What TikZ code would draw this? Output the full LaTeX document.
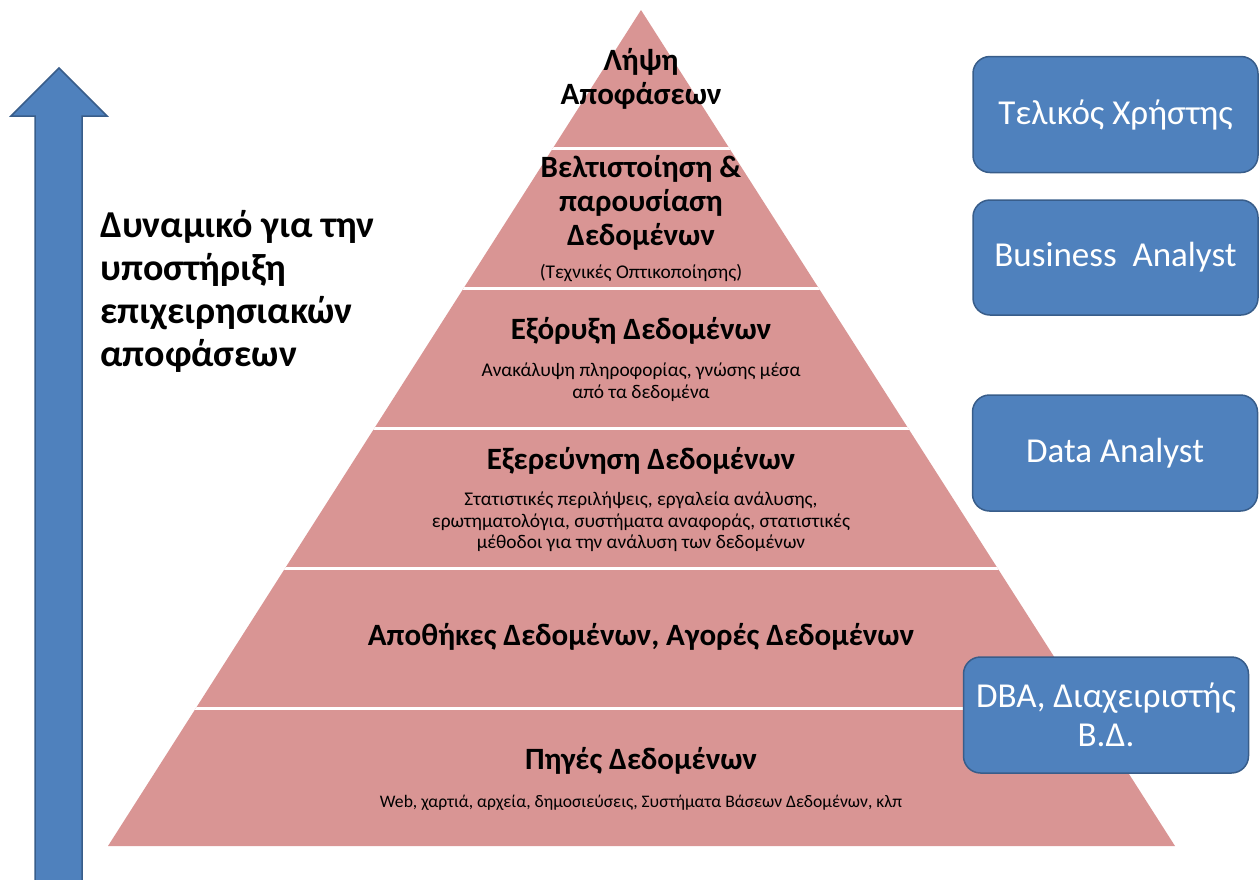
\documentclass[tikz,border=0pt]{standalone}
\usepackage{fontspec}
\setmainfont{Carlito}
\definecolor{pyr}{HTML}{D99594}
\definecolor{bfill}{HTML}{4F81BD}
\definecolor{bdraw}{HTML}{385D8A}
\tikzset{
  big/.style={font=\bfseries\fontsize{31}{34}\selectfont, align=center, inner sep=0pt},
  small/.style={font=\fontsize{19.4}{21.5}\selectfont, align=center, inner sep=0pt},
  rolebox/.style={draw=bdraw, line width=1.5pt, fill=bfill, rounded corners=17pt,
     text=white, font=\fontsize{35}{39}\selectfont, align=center, inner sep=0pt},
  sep/.style={white, line width=3pt}
}
\begin{document}
\begin{tikzpicture}[x=1pt,y=-1pt]
\useasboundingbox (0,0) rectangle (1259,879);
% pyramid
\fill[pyr] (641,10) -- (1175,846) -- (108,846) -- cycle;
\begin{scope}
  \clip (641,10) -- (1175,846) -- (108,846) -- cycle;
  \foreach \yy in {148,288,428,568,708} \draw[sep] (90,\yy) -- (1200,\yy);
\end{scope}
% arrow
\draw[bdraw, line width=1.5pt, fill=bfill] (35,885) -- (35,116) -- (11,116) -- (59,68) -- (107,116) -- (82,116) -- (82,885);
% left text
\node[font=\bfseries\fontsize{38}{43}\selectfont, align=left, anchor=west, inner sep=0pt] (pot) at (100,291)
  {Δυναμικό για την\\υποστήριξη\\επιχειρησιακών\\αποφάσεων};
% pyramid texts
\node[big] (lipsi) at (641,79) {Λήψη\\Αποφάσεων};
\node[big] (velt) at (641,203) {Βελτιστοίηση \&\\παρουσίαση\\Δεδομένων};
\node[small] (tech) at (641,273) {(Τεχνικές Οπτικοποίησης)};
\node[big] (exor) at (641,331) {Εξόρυξη Δεδομένων};
\node[small, font=\fontsize{19.4}{22}\selectfont] (anak) at (641,382) {Ανακάλυψη πληροφορίας, γνώσης μέσα\\από τα δεδομένα};
\node[big] (exer) at (641,461) {Εξερεύνηση Δεδομένων};
\node[small] (stat) at (641,522) {Στατιστικές περιλήψεις, εργαλεία ανάλυσης,\\ερωτηματολόγια, συστήματα αναφοράς, στατιστικές\\μέθοδοι για την ανάλυση των δεδομένων};
\node[big] (apoth) at (641,637) {Αποθήκες Δεδομένων, Αγορές Δεδομένων};
\node[big] (pig) at (641,761) {Πηγές Δεδομένων};
\node[small, font=\fontsize{17.6}{20}\selectfont] (web) at (641,803) {Web, χαρτιά, αρχεία, δημοσιεύσεις, Συστήματα Βάσεων Δεδομένων, κλπ};
% role boxes
\node[rolebox, minimum width=285, minimum height=116] (tel) at (1115.5,114.5) {Τελικός Χρήστης};
\node[rolebox, minimum width=285, minimum height=115] (bus) at (1115.5,257.5) {Business\ \ Analyst};
\node[rolebox, minimum width=285, minimum height=116] (dat) at (1115,453) {Data Analyst};
\node[rolebox, minimum width=285, minimum height=116] (dba) at (1106,715) {DBA, Διαχειριστής\\Β.Δ.};
\end{tikzpicture}
\end{document}
